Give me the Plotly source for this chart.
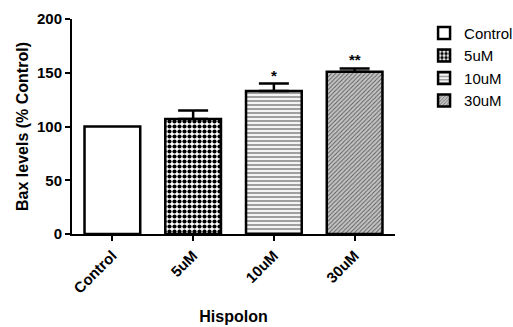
import plotly.graph_objects as go

# Bax protein levels after Hispolon treatment, expressed as % of control
groups = ["Control", "5uM", "10uM", "30uM"]
means = [100, 107, 133, 151]
sem = [0, 8, 7, 3]
significance = ["", "", "*", "**"]

# fill style for each group's bar
styles = [
    dict(shape="", bg="white", fg="black", size=6, solidity=0.3),
    dict(shape=".", bg="white", fg="black", size=5, solidity=0.55),
    dict(shape="-", bg="#f4f4f4", fg="#666666", size=4, solidity=0.3),
    dict(shape="/", bg="#c4c4c4", fg="#5a5a5a", size=3, solidity=0.3),
]

font_family = "Liberation Sans, Arial, sans-serif"

fig = go.Figure()
for g, m, e, st in zip(groups, means, sem, styles):
    fig.add_trace(go.Bar(
        x=[g], y=[m], name=g, width=0.69,
        marker=dict(
            color=st["bg"],
            line=dict(color="black", width=2.5),
            pattern=dict(shape=st["shape"], fgcolor=st["fg"], bgcolor=st["bg"],
                         size=st["size"], solidity=st["solidity"], fillmode="replace"),
        ),
        error_y=dict(type="data", symmetric=False, array=[e], arrayminus=[0],
                     color="black", thickness=2.5, width=15, visible=e > 0),
    ))

for g, m, e, s in zip(groups, means, sem, significance):
    if s:
        fig.add_annotation(x=g, y=m + e, text="<b>" + s + "</b>", showarrow=False,
                           yanchor="bottom", yshift=-2,
                           font=dict(family=font_family, size=15, color="black"))

fig.update_layout(
    width=513, height=327,
    margin=dict(l=72, r=118, t=19, b=93, autoexpand=False),
    paper_bgcolor="white", plot_bgcolor="white",
    barmode="overlay",
    font=dict(family=font_family, color="black"),
    showlegend=True,
    legend=dict(x=1.09, y=1.01, xanchor="left", yanchor="top",
                font=dict(family=font_family, size=15, color="black"),
                bgcolor="rgba(0,0,0,0)"),
    xaxis=dict(
        range=[-0.5, 3.5], tickangle=-45, showline=True, linecolor="black", linewidth=2,
        ticks="outside", ticklen=5, tickwidth=2, tickcolor="black",
        tickfont=dict(family=font_family, size=15, color="black"),
        tickvals=groups, ticktext=["<b>" + g + "</b>" for g in groups],
        title=dict(text="<b>Hispolon</b>", font=dict(family=font_family, size=16)),
        showgrid=False, zeroline=False, automargin=False,
    ),
    yaxis=dict(
        range=[0, 200], tickvals=[0, 50, 100, 150, 200],
        ticktext=["<b>%d</b>" % v for v in [0, 50, 100, 150, 200]],
        showline=True, linecolor="black", linewidth=2,
        ticks="outside", ticklen=5, tickwidth=2, tickcolor="black",
        tickfont=dict(family=font_family, size=15, color="black"),
        title=dict(text="<b>Bax levels (% Control)</b>", font=dict(family=font_family, size=16), standoff=4),
        showgrid=False, zeroline=False, automargin=True,
    ),
)

fig.write_html("out.html")
